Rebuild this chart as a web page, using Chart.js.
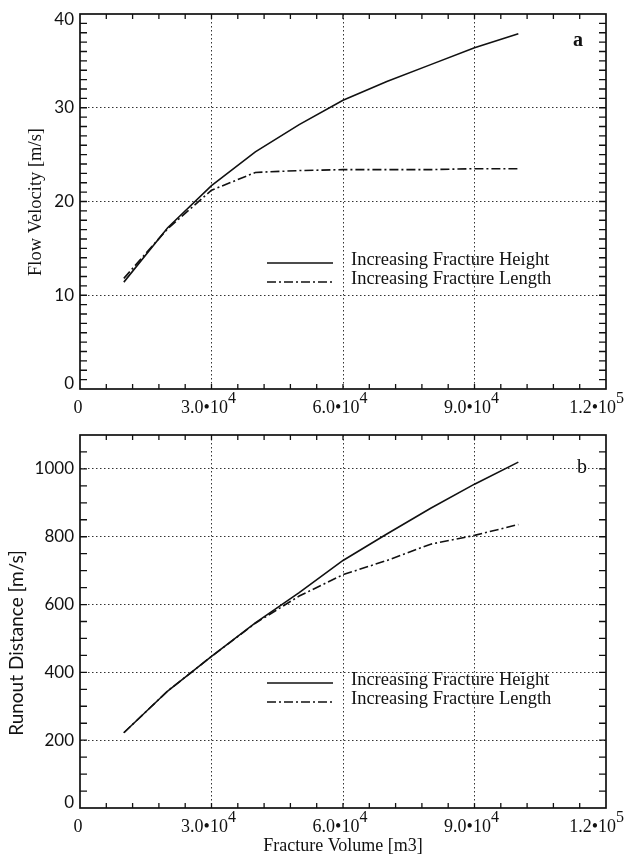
<!DOCTYPE html>
<html>
<head>
<meta charset="utf-8">
<script src="https://cdn.jsdelivr.net/npm/chart.js@4/dist/chart.umd.min.js"></script>
<style>
  html, body { margin: 0; padding: 0; background: #fff; }
  #wrap { position: relative; width: 636px; height: 855px; }
  canvas { position: absolute; left: 0; }
</style>
</head>
<body>
<div id="wrap">
  <canvas id="velChart" width="636" height="420" style="top:0"></canvas>
  <canvas id="runChart" width="636" height="435" style="top:420px"></canvas>
</div>
<script>
"use strict";

// data
var volume = [10000, 20000, 30000, 40000, 50000, 60000, 70000, 80000, 90000, 100000];

var velocityHeight = [11.4, 17.2, 21.7, 25.3, 28.2, 30.8, 32.8, 34.6, 36.4, 37.9];
var velocityLength = [11.8, 17.1, 21.2, 23.1, 23.3, 23.4, 23.4, 23.4, 23.5, 23.5];

var runoutHeight = [222, 345, 447, 546, 635, 730, 808, 884, 955, 1020];
var runoutLength = [222, 345, 447, 545, 625, 688, 730, 778, 804, 836];

var seriesNames = ["Increasing Fracture Height", "Increasing Fracture Length"];

var xTicks = [0, 30000, 60000, 90000, 120000];
var velTicks = [0, 10, 20, 30, 40];
var runTicks = [0, 200, 400, 600, 800, 1000];

var INK = '#111';
var SERIF = '"Liberation Serif", "Times New Roman", serif';

function pairs(xs, ys) {
  return xs.map((v, i) => ({ x: v, y: ys[i] }));
}

function sciLabel(v) {
  if (v === 0) return { base: "0", sup: "" };
  let e = Math.floor(Math.log10(v) + 1e-9);
  let m = (v / Math.pow(10, e)).toFixed(1);
  return { base: m + "\u2022" + "10", sup: String(e) };
}

// frame, inward ticks, labels, legend
const framePlugin = {
  id: 'frame',
  afterDraw(chart, args, o) {
    const ctx = chart.ctx;
    const a = chart.chartArea;
    const x = chart.scales.x, y = chart.scales.y;
    ctx.save();

    ctx.strokeStyle = INK;
    ctx.lineWidth = 1.7;
    ctx.setLineDash([]);
    ctx.strokeRect(a.left, a.top, a.right - a.left, a.bottom - a.top);

    ctx.lineWidth = 1.3;
    ctx.beginPath();
    let nx = Math.round((x.max - x.min) / o.xMinor);
    for (let i = 1; i < nx; i++) {
      let px = x.getPixelForValue(x.min + i * o.xMinor);
      ctx.moveTo(px, a.bottom); ctx.lineTo(px, a.bottom - 5);
      ctx.moveTo(px, a.top); ctx.lineTo(px, a.top + 5);
    }
    let ny = Math.round((y.max - y.min) / o.yMinor);
    for (let i = 1; i < ny; i++) {
      let py = y.getPixelForValue(y.min + i * o.yMinor);
      ctx.moveTo(a.left, py); ctx.lineTo(a.left + 7, py);
      ctx.moveTo(a.right, py); ctx.lineTo(a.right - 7, py);
    }
    ctx.stroke();

    ctx.fillStyle = INK;

    // y tick labels
    ctx.font = '17px Lato, sans-serif';
    ctx.textAlign = 'right';
    ctx.textBaseline = 'middle';
    o.yTicks.forEach(v => {
      let py = y.getPixelForValue(v);
      py = Math.min(Math.max(py, a.top + 6), a.bottom - 5);
      ctx.fillText(String(v), a.left - 6, py);
    });

    // x tick labels with exponent
    ctx.textAlign = 'left';
    ctx.textBaseline = 'alphabetic';
    xTicks.forEach(v => {
      let lab = sciLabel(v);
      ctx.font = '18px ' + SERIF;
      let wb = ctx.measureText(lab.base).width;
      ctx.font = '16px ' + SERIF;
      let ws = lab.sup ? ctx.measureText(lab.sup).width : 0;
      let px = x.getPixelForValue(v);
      let left = px - (wb + ws) / 2 - (lab.sup ? 3 : 2);
      if (left + wb + ws > 624) left = 624 - wb - ws;
      let base = a.bottom + 24;
      ctx.font = '18px ' + SERIF;
      ctx.fillText(lab.base, left, base);
      if (lab.sup) {
        ctx.font = '16px ' + SERIF;
        ctx.fillText(lab.sup, left + wb, base - 10);
      }
    });

    // axis titles
    ctx.textAlign = 'center';
    ctx.textBaseline = 'middle';
    ctx.save();
    ctx.translate(o.yTitleX, o.yTitleY);
    ctx.rotate(-Math.PI / 2);
    ctx.font = o.yTitleFont;
    ctx.fillText(o.yTitle, 0, 0);
    ctx.restore();

    if (o.xTitle) {
      ctx.font = '18px ' + SERIF;
      ctx.fillText(o.xTitle, (a.left + a.right) / 2, o.xTitleY);
    }

    // panel letter
    ctx.font = o.letterFont;
    ctx.fillText(o.letter, o.letterX, o.letterY);

    // legend inside the plot
    chart.data.datasets.forEach((ds, i) => {
      let ly = o.legendY + i * 19;
      ctx.strokeStyle = INK;
      ctx.lineWidth = 1.6;
      ctx.setLineDash(ds.borderDash || []);
      ctx.beginPath();
      ctx.moveTo(267, ly);
      ctx.lineTo(333, ly);
      ctx.stroke();
      ctx.setLineDash([]);
      ctx.font = '18.5px ' + SERIF;
      ctx.textAlign = 'left';
      ctx.fillText(ds.label, 351, ly - 3);
    });

    ctx.restore();
  }
};

function gridColor(c) {
  let s = c.scale;
  let v = c.tick ? c.tick.value : null;
  if (v === null || v <= s.min || v >= s.max) return 'rgba(0,0,0,0)';
  if (s.axis === 'x' && v % 30000 !== 0) return 'rgba(0,0,0,0)';
  return '#333';
}

function buildChart(id, p) {
  return new Chart(document.getElementById(id), {
    type: 'line',
    data: {
      datasets: [{
        label: seriesNames[0],
        data: pairs(volume, p.height),
        borderColor: INK,
        borderWidth: 1.6,
        pointRadius: 0,
        fill: false
      }, {
        label: seriesNames[1],
        data: pairs(volume, p.length),
        borderColor: INK,
        borderWidth: 1.6,
        borderDash: [9, 3, 2, 3],
        pointRadius: 0,
        fill: false
      }]
    },
    options: {
      responsive: false,
      animation: false,
      layout: { padding: { top: p.padTop, right: 30, left: 0, bottom: 0 } },
      plugins: {
        legend: { display: false },
        tooltip: { enabled: false },
        frame: p.frame
      },
      scales: {
        x: {
          type: 'linear',
          min: 0,
          max: 120000,
          ticks: { display: false, stepSize: 30000 },
          grid: { color: gridColor, lineWidth: 1, drawTicks: false },
          border: { display: false, dash: [1.5, 2.5] },
          afterFit: s => { s.height = p.xHeight; }
        },
        y: {
          type: 'linear',
          min: 0,
          max: p.yMax,
          ticks: { display: false, stepSize: p.yStep },
          grid: { color: gridColor, lineWidth: 1, drawTicks: false },
          border: { display: false, dash: [1.5, 2.5] },
          afterFit: s => { s.width = 80; }
        }
      }
    },
    plugins: [framePlugin]
  });
}

buildChart('velChart', {
  height: velocityHeight,
  length: velocityLength,
  padTop: 14,
  xHeight: 31,
  yMax: 40,
  yStep: 10,
  frame: {
    xMinor: 6000, yMinor: 1, yTicks: velTicks,
    yTitle: "Flow Velocity [m/s]", yTitleX: 36, yTitleY: 202,
    yTitleFont: '18.5px ' + SERIF,
    letter: "a", letterX: 578, letterY: 41, letterFont: 'bold 20px ' + SERIF,
    legendY: 263
  }
});

buildChart('runChart', {
  height: runoutHeight,
  length: runoutLength,
  padTop: 15,
  xHeight: 47,
  yMax: 1100,
  yStep: 200,
  frame: {
    xMinor: 6000, yMinor: 50, yTicks: runTicks,
    yTitle: "Runout Distance [m/s]", yTitleX: 17, yTitleY: 223,
    yTitleFont: '19px Lato, sans-serif',
    letter: "b", letterX: 582, letterY: 48, letterFont: '20px ' + SERIF,
    legendY: 263,
    xTitle: "Fracture Volume [m3]", xTitleY: 426
  }
});
</script>
</body>
</html>
